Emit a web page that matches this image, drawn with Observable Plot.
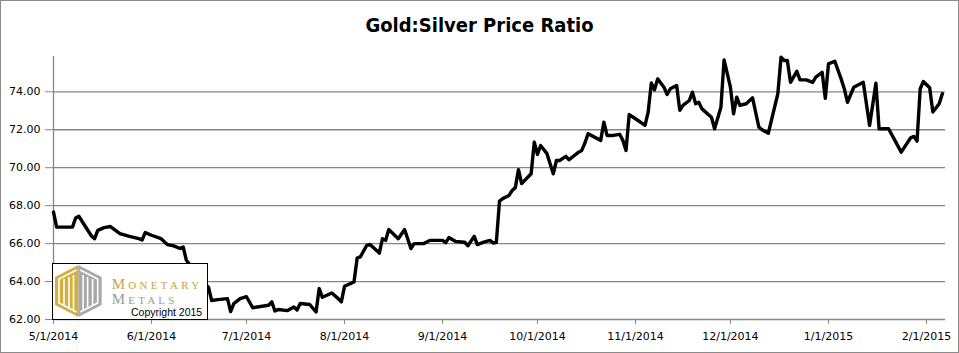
<!DOCTYPE html>
<html><head><meta charset="utf-8">
<script src="https://cdn.jsdelivr.net/npm/d3@7"></script>
<script src="https://cdn.jsdelivr.net/npm/@observablehq/plot@0.6"></script>
<style>
body{margin:0;background:#fff;}
#wrap{position:relative;width:959px;height:353px;box-sizing:border-box;border:1px solid #8c8c8c;overflow:hidden;background:#fff}
#title{height:40px;box-sizing:border-box;padding-top:14px;text-align:center;font-weight:bold;font-size:20px;font-family:"Liberation Sans Narrow","DejaVu Sans Condensed",sans-serif;line-height:20px;color:#000}
#chart svg{display:block}
#logo{position:absolute;left:51px;top:262px;width:156px;height:57px;box-sizing:border-box;border:1px solid #000;background:#fff}
#logo svg{position:absolute;left:0;top:0}
</style></head>
<body>
<div id="wrap">
  <div id="title">Gold:Silver Price Ratio</div>
  <div id="chart"></div>
  <div id="logo">
    <svg width="154" height="55" viewBox="0 0 154 55">
      <polygon points="25.3,1 25.3,53 2,41 2,13" fill="#D4AE3E"/>
      <polygon points="25.3,1 48.7,13 48.7,41 25.3,53" fill="#A8A8A8"/>
      <polyline points="23.5,6 6,15 6,39 23.5,48" fill="none" stroke="#fff" stroke-width="1.6"/>
      <polyline points="27.1,6 44.7,15 44.7,39 27.1,48" fill="none" stroke="#fff" stroke-width="1.6"/>
      <line x1="11" y1="15" x2="11" y2="42" stroke="#fff" stroke-width="1.6"/>
      <line x1="16" y1="13" x2="16" y2="45" stroke="#fff" stroke-width="1.6"/>
      <line x1="20.5" y1="11" x2="20.5" y2="46" stroke="#fff" stroke-width="1.6"/>
      <line x1="30.1" y1="11" x2="30.1" y2="46" stroke="#fff" stroke-width="1.6"/>
      <line x1="34.6" y1="13" x2="34.6" y2="45" stroke="#fff" stroke-width="1.6"/>
      <line x1="39.6" y1="15" x2="39.6" y2="42" stroke="#fff" stroke-width="1.6"/>
      <text x="58.7" y="25" fill="#C9A43C" style="font-family:'Liberation Serif','DejaVu Serif',serif;font-size:15px;font-variant:small-caps;letter-spacing:3.3px">Monetary</text>
      <text x="58.7" y="39.5" fill="#9A9A9A" style="font-family:'Liberation Serif','DejaVu Serif',serif;font-size:15px;font-variant:small-caps;letter-spacing:3.2px">Metals</text>
      <text x="78" y="52" fill="#000" style="font-family:'Liberation Sans',Arial,sans-serif;font-size:10.5px">Copyright 2015</text>
    </svg>
  </div>
</div>
<script>
const dates = [
"2014-05-01","2014-05-02","2014-05-07","2014-05-08","2014-05-09","2014-05-13","2014-05-14","2014-05-15","2014-05-17","2014-05-19",
"2014-05-22","2014-05-25","2014-05-28","2014-05-29","2014-05-30","2014-06-01","2014-06-04","2014-06-06","2014-06-08","2014-06-10",
"2014-06-11","2014-06-12","2014-06-15","2014-06-17","2014-06-19","2014-06-20","2014-06-22","2014-06-25","2014-06-26","2014-06-27",
"2014-06-29","2014-07-01","2014-07-03","2014-07-08","2014-07-09","2014-07-10","2014-07-11","2014-07-14","2014-07-16","2014-07-17",
"2014-07-18","2014-07-21","2014-07-23","2014-07-24","2014-07-25","2014-07-28","2014-07-30","2014-07-31","2014-08-01","2014-08-04",
"2014-08-05","2014-08-06","2014-08-08","2014-08-09","2014-08-12","2014-08-13","2014-08-14","2014-08-15","2014-08-18","2014-08-20",
"2014-08-22","2014-08-23","2014-08-26","2014-08-27","2014-08-28","2014-09-01","2014-09-02","2014-09-03","2014-09-05","2014-09-08",
"2014-09-09","2014-09-11","2014-09-12","2014-09-14","2014-09-16","2014-09-17","2014-09-18","2014-09-19","2014-09-20","2014-09-22",
"2014-09-23","2014-09-24","2014-09-25","2014-09-26","2014-09-29","2014-09-30","2014-10-01","2014-10-02","2014-10-04","2014-10-06",
"2014-10-07","2014-10-08","2014-10-10","2014-10-11","2014-10-14","2014-10-15","2014-10-16","2014-10-17","2014-10-21","2014-10-22",
"2014-10-23","2014-10-25","2014-10-27","2014-10-28","2014-10-29","2014-10-30","2014-11-01","2014-11-04","2014-11-05","2014-11-06",
"2014-11-07","2014-11-08","2014-11-10","2014-11-11","2014-11-12","2014-11-14","2014-11-15","2014-11-16","2014-11-18","2014-11-19",
"2014-11-20","2014-11-21","2014-11-22","2014-11-25","2014-11-26","2014-11-28","2014-11-29","2014-12-01","2014-12-02","2014-12-03",
"2014-12-04","2014-12-06","2014-12-08","2014-12-10","2014-12-11","2014-12-13","2014-12-16","2014-12-17","2014-12-18","2014-12-19",
"2014-12-20","2014-12-22","2014-12-23","2014-12-25","2014-12-27","2014-12-28","2014-12-30","2014-12-31","2015-01-01","2015-01-03",
"2015-01-05","2015-01-06","2015-01-07","2015-01-09","2015-01-12","2015-01-14","2015-01-16","2015-01-17","2015-01-20","2015-01-22",
"2015-01-24","2015-01-27","2015-01-28","2015-01-29","2015-01-30","2015-01-31","2015-02-02","2015-02-03","2015-02-05","2015-02-06"
];
const ratios = [
67.66,66.87,66.87,67.35,67.44,66.40,66.26,66.70,66.84,66.90,
66.53,66.38,66.26,66.19,66.58,66.44,66.26,65.95,65.88,65.74,
65.82,65.12,64.50,64.00,63.70,63.00,63.05,63.10,62.42,62.84,
63.10,63.20,62.62,62.75,62.93,62.45,62.53,62.47,62.66,62.50,
62.84,62.79,62.40,63.63,63.17,63.40,63.10,62.93,63.75,63.98,
65.24,65.30,65.90,65.96,65.50,66.26,66.17,66.74,66.26,66.74,
65.74,66.00,66.00,66.08,66.17,66.17,66.05,66.32,66.12,66.07,
65.89,66.38,65.95,66.08,66.17,66.03,66.07,68.24,68.37,68.54,
68.80,68.95,69.90,69.16,69.68,71.35,70.70,71.17,70.74,69.68,
70.38,70.38,70.60,70.42,70.82,70.91,71.30,71.79,71.44,72.40,
71.70,71.70,71.76,71.44,70.91,72.80,72.58,72.23,72.93,74.47,
74.10,74.68,74.24,73.86,74.16,74.33,73.02,73.28,73.54,73.98,
73.37,73.45,73.10,72.66,72.05,73.19,75.68,74.24,72.84,73.72,
73.28,73.37,73.68,72.14,72.00,71.82,73.90,75.82,75.65,75.65,
74.50,75.08,74.63,74.63,74.50,74.77,75.03,73.66,75.47,75.61,
74.68,74.16,73.45,74.24,74.50,72.23,74.45,72.05,72.05,71.44,
70.82,71.58,71.65,71.40,74.16,74.54,74.21,72.93,73.37,73.90
];
const yTicks = [62, 64, 66, 68, 70, 72, 74];
const xTicks = ["2014-05-01","2014-06-01","2014-07-01","2014-08-01","2014-09-01","2014-10-01","2014-11-01","2014-12-01","2015-01-01","2015-02-01"];
const xDomain = ["2014-05-01","2015-02-07"];
const yDomain = [62, 75.86];

const data = dates.map((d, i) => ({date: new Date(d), ratio: ratios[i]}));
const fmt = d => `${d.getUTCMonth() + 1}/${d.getUTCDate()}/${d.getUTCFullYear()}`;
const grid = "#868686";

const chart = Plot.plot({
  width: 957,
  height: 311,
  marginTop: 15,
  marginBottom: 33,
  marginLeft: 52,
  marginRight: 13,
  style: {fontFamily: "DejaVu Sans", fontSize: "11px", color: "#000", background: "#fff", overflow: "visible"},
  x: {type: "utc", domain: xDomain.map(d => new Date(d))},
  y: {domain: yDomain},
  marks: [
    Plot.gridY(yTicks, {stroke: grid, strokeOpacity: 1, strokeWidth: 1.3}),
    Plot.ruleX([new Date(xDomain[0])], {stroke: grid, strokeWidth: 1.3}),
    Plot.axisY(yTicks, {tickSize: 8, tickPadding: 5, tickFormat: d => d.toFixed(2), stroke: grid, label: null}),
    Plot.axisX(xTicks.map(d => new Date(d)), {tickSize: 5, tickPadding: 8, tickFormat: fmt, stroke: grid, label: null}),
    Plot.lineY(data, {x: "date", y: "ratio", stroke: "#000", strokeWidth: 3.4, strokeLinejoin: "round", curve: "linear"})
  ]
});
document.getElementById("chart").appendChild(chart);
</script>
</body></html>
